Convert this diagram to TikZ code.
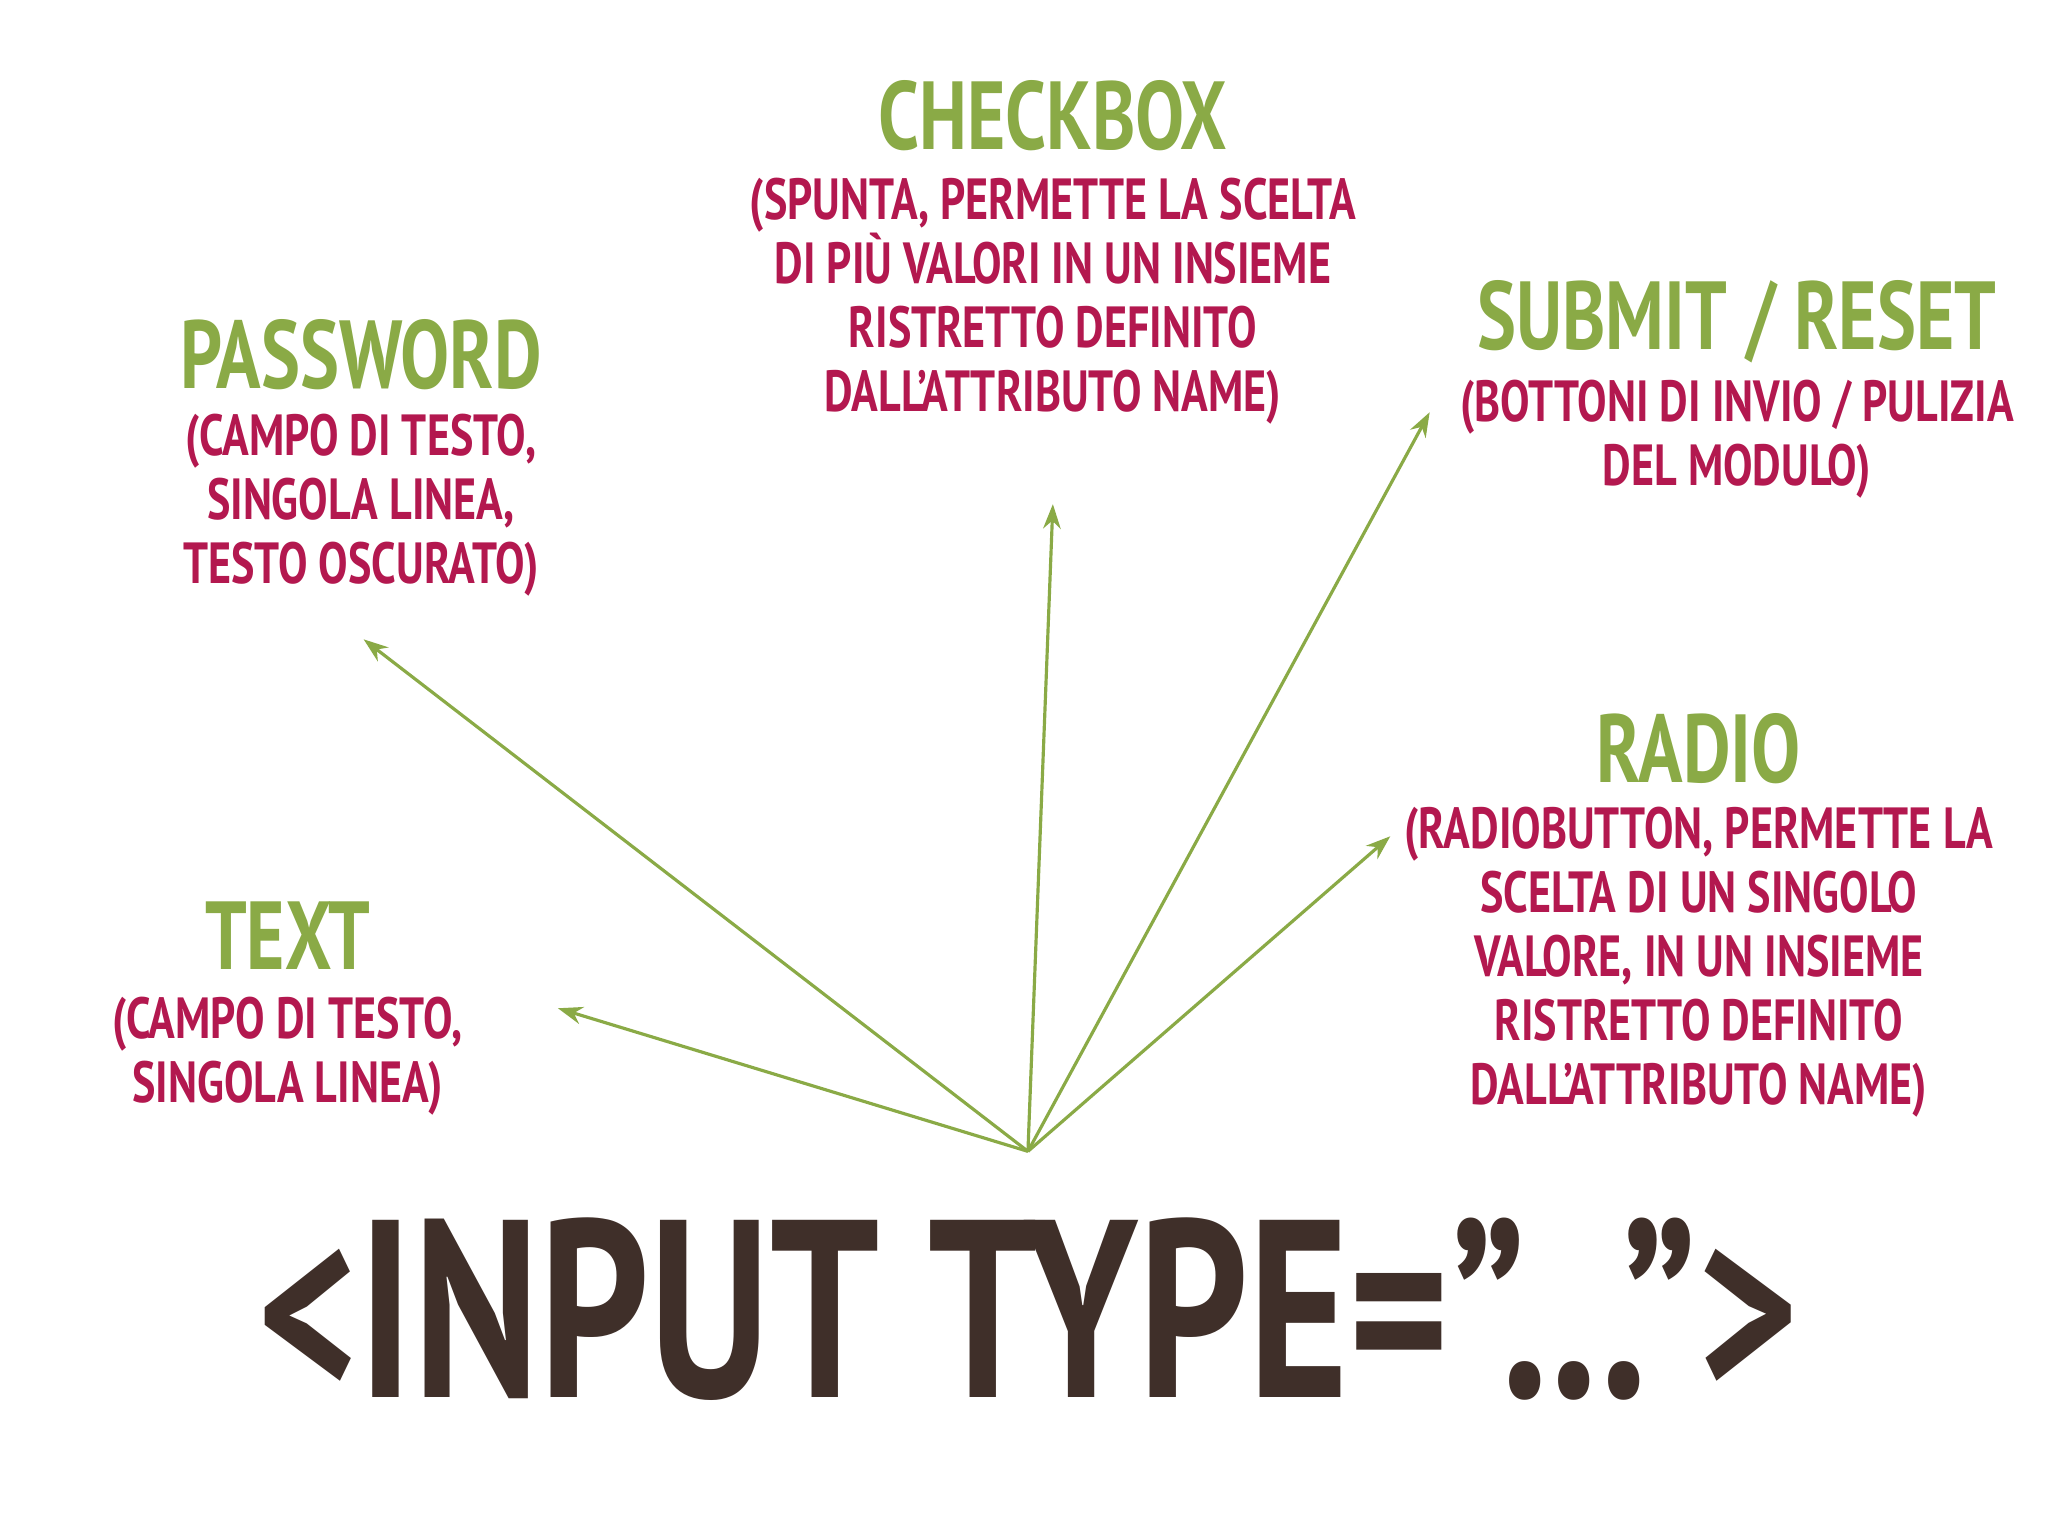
\documentclass[tikz,border=0pt]{standalone}
\usepackage{fontspec}
\usetikzlibrary{arrows.meta}
\setmainfont{PT Sans}[FakeStretch=0.76,Ligatures=ResetAll]
\begin{document}
\begin{tikzpicture}[x=0.01313cm,y=-0.01313cm,
  ttl/.style={text=gr,font=\bfseries\fontsize{27.5}{30}\selectfont,inner sep=0},
  dsc/.style={text=rd,font=\bfseries\fontsize{16.5}{18.2}\selectfont,align=center,inner sep=0,anchor=north},
  arr/.style={draw=gr,line width=0.9pt,-{Stealth[length=7pt,width=5pt]}}]
\definecolor{gr}{HTML}{8AAA46}
\definecolor{rd}{HTML}{B3184F}
\definecolor{br}{HTML}{3F2F29}
\useasboundingbox[fill=white] (0,0) rectangle (1560,1170);
\node[ttl] (chk) at (802,88) {CHECKBOX};
\node[dsc] (chkd) at (802,135) {(SPUNTA, PERMETTE LA SCELTA\\DI PIÙ VALORI IN UN INSIEME\\RISTRETTO DEFINITO\\DALL'ATTRIBUTO NAME)};
\node[ttl] (pwd) at (275,270) {PASSWORD};
\node[dsc] (pwdd) at (275,315) {(CAMPO DI TESTO,\\SINGOLA LINEA,\\TESTO OSCURATO)};
\node[ttl] (sub) at (1323,245) {SUBMIT / RESET};
\node[dsc] (subd) at (1323,289) {(BOTTONI DI INVIO / PULIZIA\\DEL MODULO)};
\node[ttl] (rad) at (1294,570) {RADIO};
\node[dsc] (radd) at (1294,614) {(RADIOBUTTON, PERMETTE LA\\SCELTA DI UN SINGOLO\\VALORE, IN UN INSIEME\\RISTRETTO DEFINITO\\DALL'ATTRIBUTO NAME)};
\node[ttl] (txt) at (219,713) {TEXT};
\node[dsc] (txtd) at (219,759) {(CAMPO DI TESTO,\\SINGOLA LINEA)};
\node[text=br,font=\bfseries\fontsize{72}{76}\selectfont,inner sep=0] (inp) at (783,997) {<INPUT TYPE="...">};
\coordinate (o) at (783,877);
\coordinate (a1) at (277,487);
\coordinate (a2) at (425,768);
\coordinate (a3) at (802,384);
\coordinate (a4) at (1089,314);
\coordinate (a5) at (1059,637);
\foreach \t in {a1,a2,a3,a4,a5} \draw[arr] (o) -- (\t);
\end{tikzpicture}
\end{document}
